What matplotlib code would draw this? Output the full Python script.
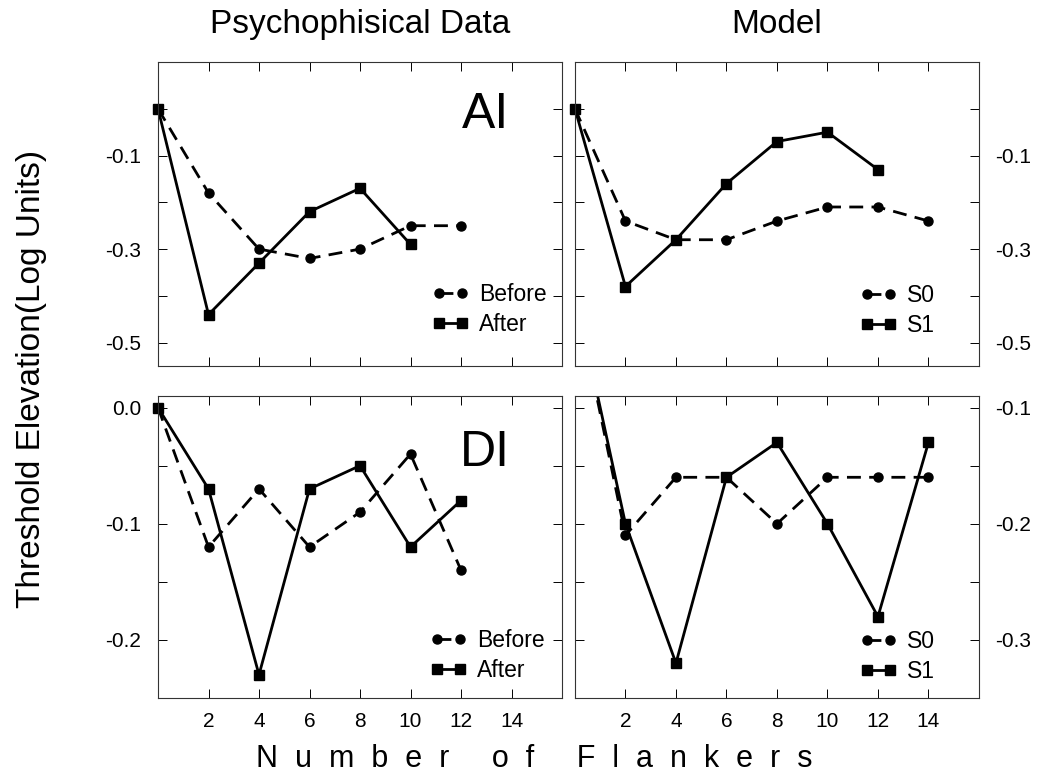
import numpy as np
import matplotlib
matplotlib.use("Agg")
import matplotlib.pyplot as plt

plt.rcParams['font.family'] = ['Liberation Sans', 'DejaVu Sans']
plt.rcParams['axes.unicode_minus'] = False

# AI condition, psychophysical data
ai_before_x = [0, 2, 4, 6, 8, 10, 12]
ai_before = [0.0, -0.18, -0.30, -0.32, -0.30, -0.25, -0.25]
ai_after_x = [0, 2, 4, 6, 8, 10]
ai_after = [0.0, -0.44, -0.33, -0.22, -0.17, -0.29]
# AI condition, model
ai_s0_x = [0, 2, 4, 6, 8, 10, 12, 14]
ai_s0 = [0.0, -0.24, -0.28, -0.28, -0.24, -0.21, -0.21, -0.24]
ai_s1_x = [0, 2, 4, 6, 8, 10, 12]
ai_s1 = [0.0, -0.38, -0.28, -0.16, -0.07, -0.05, -0.13]
# DI condition, psychophysical data
di_before_x = [0, 2, 4, 6, 8, 10, 12]
di_before = [0.0, -0.12, -0.07, -0.12, -0.09, -0.04, -0.14]
di_after_x = [0, 2, 4, 6, 8, 10, 12]
di_after = [0.0, -0.07, -0.23, -0.07, -0.05, -0.12, -0.08]
# DI condition, model
di_s0_x = [0, 2, 4, 6, 8, 10, 12, 14]
di_s0 = [0.0, -0.21, -0.16, -0.16, -0.20, -0.16, -0.16, -0.16]
di_s1_x = [0, 2, 4, 6, 8, 10, 12, 14]
di_s1 = [0.0, -0.20, -0.32, -0.16, -0.13, -0.20, -0.28, -0.13]

x_ticks = [2, 4, 6, 8, 10, 12, 14]
top_major = [-0.5, -0.3, -0.1]
top_labels = ['-0.5', '-0.3', '-0.1']
top_minor = [-0.4, -0.2, 0.0]
bl_major = [-0.2, -0.1, 0.0]
bl_labels = ['-0.2', '-0.1', '0.0']
bl_minor = [-0.15, -0.05]
br_major = [-0.3, -0.2, -0.1]
br_labels = ['-0.3', '-0.2', '-0.1']
br_minor = [-0.25, -0.15]


def draw_panel(ax, xa, ya, la, xb, yb, lb, ylim, major, labels, minor,
               legend_pos, right_labels, bottom_labels, clip=False):
    ax.plot(xa, ya, color='black', lw=2, dashes=(5, 3), marker='o',
            markersize=6.5, label=la, clip_on=clip)
    ax.plot(xb, yb, color='black', lw=2, marker='s', markersize=7.5,
            label=lb, clip_on=clip)
    ax.set_xlim(0, 16)
    ax.set_ylim(*ylim)
    ax.set_xticks(x_ticks)
    ax.set_yticks(major, labels=labels)
    ax.set_yticks(minor, minor=True)
    ax.tick_params(which='both', direction='in', length=6.5, width=0.7,
                   top=True, bottom=True, left=True, right=True,
                   labelsize=15, pad=10)
    ax.tick_params(axis='y', pad=12)
    ax.tick_params(labelbottom=bottom_labels, labelleft=not right_labels,
                   labelright=right_labels)
    for sp in ax.spines.values():
        sp.set_linewidth(0.8)
        sp.set_color('#333333')
    ax.legend(loc='center left', bbox_to_anchor=legend_pos, frameon=False,
              fontsize=16.5, borderpad=0, borderaxespad=0, handlelength=1.6,
              handletextpad=0.45, labelspacing=0.3, numpoints=2)


fig = plt.figure(figsize=(10.45, 7.74), dpi=100)
ax_tl = fig.add_axes([0.1512, 0.5271, 0.3866, 0.3928])
ax_tr = fig.add_axes([0.5502, 0.5271, 0.3866, 0.3928])
ax_bl = fig.add_axes([0.1512, 0.0982, 0.3866, 0.3902])
ax_br = fig.add_axes([0.5502, 0.0982, 0.3866, 0.3902])

draw_panel(ax_tl, ai_before_x, ai_before, 'Before', ai_after_x, ai_after, 'After',
           (-0.55, 0.1), top_major, top_labels, top_minor, (0.678, 0.186), False, False)
draw_panel(ax_tr, ai_s0_x, ai_s0, 'S0', ai_s1_x, ai_s1, 'S1',
           (-0.55, 0.1), top_major, top_labels, top_minor, (0.705, 0.183), True, False)
draw_panel(ax_bl, di_before_x, di_before, 'Before', di_after_x, di_after, 'After',
           (-0.25, 0.01), bl_major, bl_labels, bl_minor, (0.673, 0.141), False, True)
# first model point lies above the panel, so the line gets cut at the top
draw_panel(ax_br, di_s0_x, di_s0, 'S0', di_s1_x, di_s1, 'S1',
           (-0.35, -0.09), br_major, br_labels, br_minor, (0.705, 0.137), True, True,
           clip=True)

ax_tl.text(0.81, 0.826, 'AI', transform=ax_tl.transAxes, fontsize=36,
           ha='center', va='center')
ax_bl.text(0.81, 0.81, 'DI', transform=ax_bl.transAxes, fontsize=36,
           ha='center', va='center')

ax_tl.set_title('Psychophisical Data', fontsize=24, pad=21)
ax_tr.set_title('Model', fontsize=24, pad=21)

fig.text(0.030, 0.51, 'Threshold Elevation(Log Units)', rotation=90,
         fontsize=24, ha='center', va='center')
fig.text(0.511, 0.009, 'N  u  m  b  e  r     o  f     F  l  a  n  k  e  r  s',
         fontsize=22, ha='center', va='baseline')

fig.savefig('out.png', dpi=100)
